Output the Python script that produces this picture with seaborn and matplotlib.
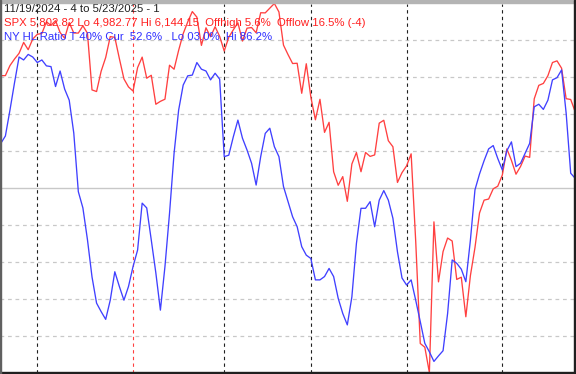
import matplotlib
matplotlib.use("Agg")
import matplotlib.pyplot as plt
import seaborn as sns
import pandas as pd
from matplotlib.patches import Rectangle

# ---- data ----
dates = (
    ["2024-11-%02d" % d for d in [19, 20, 21, 22, 25, 26, 27, 29]]
    + ["2024-12-%02d" % d for d in [2, 3, 4, 5, 6, 9, 10, 11, 12, 13, 16, 17, 18, 19, 20, 23, 24, 26, 27, 30, 31]]
    + ["2025-01-%02d" % d for d in [2, 3, 6, 7, 8, 10, 13, 14, 15, 16, 17, 21, 22, 23, 24, 27, 28, 29, 30, 31]]
    + ["2025-02-%02d" % d for d in [3, 4, 5, 6, 7, 10, 11, 12, 13, 14, 18, 19, 20, 21, 24, 25, 26, 27, 28]]
    + ["2025-03-%02d" % d for d in [3, 4, 5, 6, 7, 10, 11, 12, 13, 14, 17, 18, 19, 20, 21, 24, 25, 26, 27, 28, 31]]
    + ["2025-04-%02d" % d for d in [1, 2, 3, 4, 7, 8, 9, 10, 11, 14, 15, 16, 17, 21, 22, 23, 24, 25, 28, 29, 30]]
    + ["2025-05-%02d" % d for d in [1, 2, 5, 6, 7, 8, 9, 12, 13, 14, 15, 16, 19, 20, 21, 22, 23]]
)

spx = [
    5916.98, 5917.11, 5948.71, 5969.34, 5987.37, 6021.63, 5998.74, 6032.38,
    6047.15, 6049.88, 6086.49, 6075.11, 6090.27, 6052.85, 6034.91, 6084.19, 6051.25, 6051.09,
    6074.08, 6050.61, 5872.16, 5867.08, 5930.85, 5974.07, 6040.04, 6037.59, 5970.84, 5906.94, 5881.63,
    5868.55, 5942.47, 5975.38, 5909.03, 5918.25, 5827.04, 5836.22, 5842.91, 5949.91, 5937.34,
    5996.66, 6049.24, 6086.37, 6118.71, 6101.24, 6012.28, 6067.70, 6039.31, 6071.17, 6040.53,
    5994.57, 6037.88, 6061.48, 6083.57, 6025.99, 6066.44, 6068.50, 6051.97, 6115.07, 6114.63,
    6129.58, 6144.15, 6117.52, 6013.13, 5983.25, 5955.25, 5956.06, 5861.57, 5954.50,
    5849.72, 5778.15, 5842.63, 5738.52, 5770.20, 5614.56, 5572.07, 5599.30, 5521.52, 5638.94,
    5675.12, 5614.66, 5675.29, 5662.89, 5667.56, 5767.57, 5776.65, 5712.20, 5693.31, 5580.94, 5611.85,
    5633.07, 5670.97, 5396.52, 5074.08, 5062.25, 4982.77, 5456.90, 5268.05, 5363.36, 5405.97,
    5396.63, 5275.70, 5282.70, 5158.20, 5287.76, 5375.86, 5484.77, 5525.21, 5528.75, 5560.83, 5569.06,
    5604.14, 5686.67, 5650.38, 5606.91, 5631.28, 5663.94, 5659.91, 5844.19, 5886.55, 5892.58,
    5916.93, 5958.38, 5963.60, 5940.46, 5844.61, 5842.01, 5802.82,
]

hl_ratio = [
    62.1, 64.1, 71.1, 78.5, 85.5, 84.7, 86.2, 85.5, 84.0, 84.7,
    83.1, 82.9, 77.5, 81.7, 76.8, 73.8, 64.9, 49.0, 44.6, 36.0,
    25.9, 18.8, 16.5, 14.4, 19.6, 27.3, 23.3, 19.6, 23.3, 28.7,
    33.2, 45.9, 44.6, 35.9, 27.0, 16.9, 28.7, 43.1, 59.4, 71.1,
    77.9, 80.4, 80.6, 84.0, 82.2, 81.7, 79.3, 81.1, 79.5, 58.5,
    58.9, 63.9, 68.4, 63.5, 60.3, 56.7, 50.8, 58.5, 64.8, 66.2,
    61.2, 58.5, 50.4, 46.3, 42.2, 39.5, 34.1, 31.8, 30.9, 25.1,
    25.1, 26.0, 28.2, 26.0, 20.1, 16.0, 12.9, 20.5, 35.0, 44.5,
    44.5, 46.3, 39.5, 46.7, 49.3, 46.7, 41.8, 32.7, 25.6, 23.7,
    25.1, 19.6, 13.8, 7.9, 5.6, 3.0, 4.5, 5.9, 16.0, 30.5,
    29.6, 28.0, 24.6, 35.9, 49.5, 53.8, 57.4, 60.6, 61.5, 58.0,
    54.9, 60.1, 62.5, 55.8, 56.7, 59.4, 62.1, 72.0, 72.7, 71.3,
    73.8, 79.3, 79.9, 82.0, 70.3, 54.0, 52.6,
]

month_starts = ["2024-12-02", "2025-01-02", "2025-02-03", "2025-03-03", "2025-04-01", "2025-05-01"]
year_start = "2025-01-02"

title_line = "11/19/2024 - 4 to 5/23/2025 - 1"
spx_line = "SPX 5,802.82 Lo 4,982.77 Hi 6,144.15  Offhigh 5.6%  Offlow 16.5% (-4)"
hl_line = "NY HL Ratio T 40% Cur  52.6%   Lo 03.0%  Hi 86.2%"

spx_lo, spx_hi = 4982.77, 6144.15

# ---- plot ----
sns.set_theme(style="white")
plt.rcParams["font.family"] = ["Liberation Sans", "DejaVu Sans"]

df = pd.DataFrame({"date": dates, "spx": spx, "hl": hl_ratio})
df["i"] = range(len(df))

W, H = 576, 374
fig = plt.figure(figsize=(W / 100, H / 100), dpi=100)
fig.patch.set_facecolor("white")
ax = fig.add_axes([0, 1.5 / H, 1, 369 / H])
ax.set_facecolor("white")

px_per = 4.559
xmin = -0.83 / px_per
ax.set_xlim(xmin, xmin + W / px_per)
ax.set_ylim(spx_lo, spx_hi)

# horizontal grid
step = (spx_hi - spx_lo) / 10
for k in range(1, 10):
    y = spx_lo + k * step
    if k == 5:
        ax.axhline(y, color="#c8c8c8", lw=1.0, zorder=1)
    else:
        ax.axhline(y, color="#c8c8c8", lw=0.9, ls=(0, (3, 3)), zorder=1)

# vertical month lines
for d in month_starts:
    xi = dates.index(d)
    col = "#ff4040" if d == year_start else "#202020"
    ax.axvline(xi, color=col, lw=0.8, ls=(0, (3, 3)), zorder=1)

sns.lineplot(data=df, x="i", y="spx", ax=ax, color="#ff4040", lw=0.95, zorder=3)

ax2 = ax.twinx()
ax2.set_ylim(0, 100)
ax2.patch.set_visible(False)
sns.lineplot(data=df, x="i", y="hl", ax=ax2, color="#4040ff", lw=0.95, zorder=3)

for a in (ax, ax2):
    a.set_xticks([])
    a.set_yticks([])
    a.set_xlabel("")
    a.set_ylabel("")
    for s in a.spines.values():
        s.set_visible(False)

# frame
fig.add_artist(Rectangle((0, 1 - 3 / H), 1, 3 / H, transform=fig.transFigure, color="#b4b4b4", zorder=10))
fig.add_artist(Rectangle((0, 0), 1, 2.5 / H, transform=fig.transFigure, color="#202020", zorder=10))
fig.add_artist(Rectangle((1 - 2.5 / W, 0), 2.5 / W, 1, transform=fig.transFigure, color="#202020", zorder=10))
fig.add_artist(Rectangle((0, 0), 1.2 / W, 1, transform=fig.transFigure, color="#606060", zorder=10))

# header text
fig.text(4 / W, 1 - 9.5 / H, title_line, color="#202020", fontsize=8.2, va="center", ha="left")
fig.text(4 / W, 1 - 23 / H, spx_line, color="#ff2020", fontsize=8.2, va="center", ha="left")
fig.text(4 / W, 1 - 37 / H, hl_line, color="#3030ff", fontsize=8.2, va="center", ha="left")

fig.savefig("out.png", dpi=100, facecolor="white")
